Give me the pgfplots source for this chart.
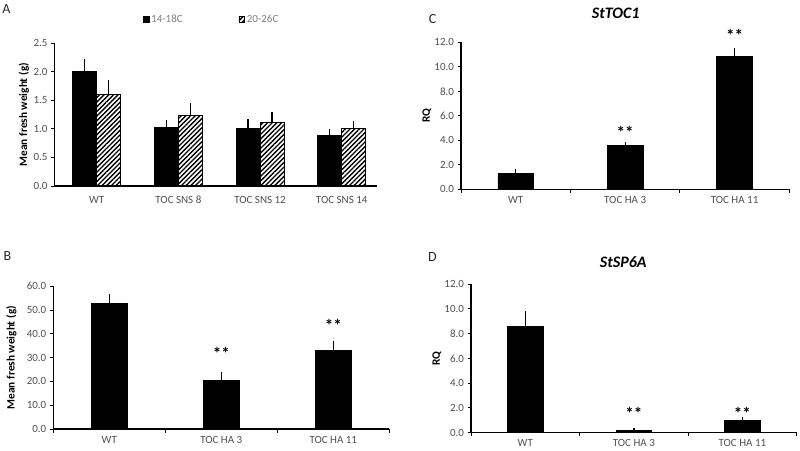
\documentclass[border=0pt]{standalone}
\usepackage{fontspec}
\setmainfont{Carlito}
\usepackage{pgfplots}
\pgfplotsset{compat=1.18}
\usetikzlibrary{patterns.meta}
\definecolor{tickgray}{HTML}{505050}
\newcommand{\tfont}{\fontsize{11bp}{13bp}\selectfont}
\newcommand{\sfont}{\fontsize{17bp}{17bp}\selectfont\bfseries}
\pgfplotsset{
  panel/.style={
    scale only axis,
    axis lines*=left,
    axis line style={line width=1.1bp,-},
    tick style={line width=0.9bp,black},
    tick align=outside,
    major tick length=3.5bp,
    ymin=0,
    tick label style={font=\tfont, text=tickgray},
    /pgf/number format/assume math mode=true,
    yticklabel style={/pgf/number format/.cd, fixed, fixed zerofill, precision=1},
    ylabel style={font=\fontsize{11.3bp}{13bp}\selectfont\bfseries, anchor=center},
    clip=false,
    error bars/y dir=plus,
    error bars/y explicit,
    error bars/error mark=-,
    error bars/error bar style={line width=1.3bp,black},
    error bars/error mark options={mark size=2.3bp,line width=1.3bp,black},
  },
  blackbar/.style={fill=black,draw=black,line width=0.8bp},
  hatchbar/.style={fill=white,draw=black,line width=1bp,
     pattern={Lines[angle=45,distance=3.3bp,line width=1.4bp]}},
}
\begin{document}
\begin{tikzpicture}
\useasboundingbox (0,0) rectangle (800bp,451bp);
% Panel letters
\node[font=\fontsize{14bp}{16bp}\selectfont, text=black!85] at (6.5bp,442.3bp) {A};
\node[font=\fontsize{14bp}{16bp}\selectfont, text=black!85] at (7.5bp,195.3bp) {B};
\node[font=\fontsize{14bp}{16bp}\selectfont, text=black!85] at (432.5bp,432bp) {C};
\node[font=\fontsize{14bp}{16bp}\selectfont, text=black!85] at (432.5bp,194.3bp) {D};
% Titles
\node[font=\fontsize{16bp}{18bp}\selectfont\bfseries\itshape] at (615.7bp,437.7bp) {StTOC1};
\node[font=\fontsize{16bp}{18bp}\selectfont\bfseries\itshape] at (623.3bp,189.3bp) {StSP6A};

% ---------- Panel A ----------
\begin{axis}[panel,
  at={(54.5bp,265bp)}, anchor=south west,
  width=322.2bp, height=142.7bp,
  ybar=0pt, bar width=24bp,
  xmin=-0.517, xmax=3.428,
  ymax=2.5, ytick={0,0.5,...,2.5},
  xtick={0,1,2,3},
  xticklabels={WT, TOC SNS 8, TOC SNS 12, TOC SNS 14},
  x tick style={draw=none},
  xticklabel style={yshift=-3bp},
  ylabel={Mean fresh weight (g)},
  ylabel style={at={(axis description cs:-0.095,0.5)}},
  legend style={at={(axis description cs:0.488,1.167)}, anchor=center, draw=none,
    fill=none, legend columns=2, font=\tfont, text=gray,
    /tikz/every even column/.append style={column sep=54bp},
    legend cell align=left},
  legend image code/.code={\draw[#1,line width=0.5bp] (0bp,-2.8bp) rectangle (5.6bp,2.8bp);},
]
\addplot[blackbar] coordinates {
  (0,2.00) +- (0,0.19)
  (1,1.02) +- (0,0.10)
  (2,1.01) +- (0,0.12)
  (3,0.88) +- (0,0.08)
};
\addlegendentry{14-18C}
\addplot[hatchbar] coordinates {
  (0,1.60) +- (0,0.21)
  (1,1.23) +- (0,0.19)
  (2,1.12) +- (0,0.14)
  (3,1.01) +- (0,0.09)
};
\addlegendentry{20-26C}
\end{axis}

% ---------- Panel B ----------
\begin{axis}[panel,
  at={(53.3bp,22bp)}, anchor=south west,
  width=336bp, height=142.7bp,
  ybar, bar width=35.5bp,
  xmin=-0.5, xmax=2.5,
  ymax=60, ytick={0,10,...,60},
  xtick={-0.5,0.5,1.5,2.5},
  x tick label as interval,
  xticklabels={WT, TOC HA 3, TOC HA 11},
  ylabel={Mean fresh weight (g)},
  ylabel style={at={(axis description cs:-0.125,0.5)}},
]
\addplot[blackbar] coordinates {
  (0,52.6) +- (0,3.2)
  (1,20.6) +- (0,2.5)
  (2,33.2) +- (0,3.0)
};
\node[font=\sfont] at (axis cs:1,31.6) {**};
\node[font=\sfont] at (axis cs:2,43.7) {**};
\end{axis}

% ---------- Panel C ----------
\begin{axis}[panel,
  at={(461bp,261.7bp)}, anchor=south west,
  width=328.3bp, height=147bp,
  ybar, bar width=35.5bp,
  xmin=-0.5, xmax=2.5,
  ymax=12, ytick={0,2,...,12},
  xtick={-0.5,0.5,1.5,2.5},
  x tick label as interval,
  xticklabels={WT, TOC HA 3, TOC HA 11},
  ylabel={RQ},
  ylabel style={at={(axis description cs:-0.104,0.5)}},
]
\addplot[blackbar] coordinates {
  (0,1.30) +- (0,0.13)
  (1,3.56) +- (0,0.14)
  (2,10.82) +- (0,0.55)
};
\node[font=\sfont] at (axis cs:1,4.62) {**};
\node[font=\sfont] at (axis cs:2,12.6) {**};
\end{axis}

% ---------- Panel D ----------
\begin{axis}[panel,
  at={(471bp,18.3bp)}, anchor=south west,
  width=325.7bp, height=148.7bp,
  ybar, bar width=35.5bp,
  xmin=-0.5, xmax=2.5,
  ymax=12, ytick={0,2,...,12},
  xtick={-0.5,0.5,1.5,2.5},
  x tick label as interval,
  xticklabels={WT, TOC HA 3, TOC HA 11},
  ylabel={RQ},
  ylabel style={at={(axis description cs:-0.105,0.5)}},
]
\addplot[blackbar] coordinates {
  (0,8.61) +- (0,0.99)
  (1,0.16) +- (0,0.00)
  (2,0.97) +- (0,0.08)
};
\node[font=\sfont] at (axis cs:1,1.55) {**};
\node[font=\sfont] at (axis cs:2,1.55) {**};
\end{axis}
\end{tikzpicture}
\end{document}
